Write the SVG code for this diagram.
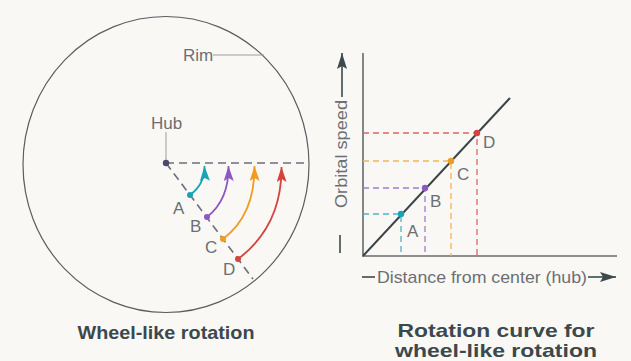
<svg xmlns="http://www.w3.org/2000/svg" width="631" height="361" viewBox="0 0 631 361">
<defs>
<style>
.lbl{font-family:"Liberation Sans",Arial,sans-serif;font-size:17px;fill:#6b6f73}
.title{font-family:"Liberation Sans",Arial,sans-serif;font-weight:bold;font-size:19px;fill:#3b484d}
.dash{fill:none;stroke:#6c6e7e;stroke-width:1.6;stroke-dasharray:8 5}
.lead{fill:none;stroke:#9a9ea2;stroke-width:1}
.cd{fill:none;stroke-width:1.3;stroke-dasharray:6 4}
.arc{fill:none;stroke-width:1.8}
</style>
<marker id="mA" markerWidth="16" markerHeight="12" refX="15" refY="5" orient="auto" markerUnits="userSpaceOnUse"><path d="M0,0 L15,5 L0,10 L3,5 z" fill="#19a4b6"/></marker>
<marker id="mB" markerWidth="16" markerHeight="12" refX="15" refY="5" orient="auto" markerUnits="userSpaceOnUse"><path d="M0,0 L15,5 L0,10 L3,5 z" fill="#8c58c2"/></marker>
<marker id="mC" markerWidth="16" markerHeight="12" refX="15" refY="5" orient="auto" markerUnits="userSpaceOnUse"><path d="M0,0 L15,5 L0,10 L3,5 z" fill="#f19b22"/></marker>
<marker id="mD" markerWidth="16" markerHeight="12" refX="15" refY="5" orient="auto" markerUnits="userSpaceOnUse"><path d="M0,0 L15,5 L0,10 L3,5 z" fill="#d6433f"/></marker>
<marker id="mK" markerWidth="18" markerHeight="12" refX="16" refY="5" orient="auto" markerUnits="userSpaceOnUse"><path d="M0,0 L16,5 L0,10 L3,5 z" fill="#3c4a4e"/></marker>
</defs>
<rect width="631" height="361" fill="#faf8f4"/>

<g id="wheel">
<ellipse cx="166" cy="164.5" rx="143" ry="148" fill="none" stroke="#5a5d62" stroke-width="1.2"/>
</g>

<g id="connectors">
<line class="dash" x1="166" y1="163" x2="308" y2="163"/>
<line class="dash" x1="166" y1="163" x2="253" y2="279"/>
<line class="lead" x1="166" y1="132" x2="166" y2="161"/>
<line class="lead" x1="213" y1="55" x2="264" y2="55"/>
<path class="arc" stroke="#19a4b6" d="M190,195 Q205,184 204.5,166" marker-end="url(#mA)"/>
<path class="arc" stroke="#8c58c2" d="M207,217 Q229,200 228.5,166" marker-end="url(#mB)"/>
<path class="arc" stroke="#f19b22" d="M223,239 Q255,215 254.5,166" marker-end="url(#mC)"/>
<path class="arc" stroke="#d6433f" d="M238,259 Q282,226 281.5,167" marker-end="url(#mD)"/>
</g>

<g id="hub"><circle cx="166" cy="163" r="3.2" fill="#4b4a6c"/><text class="lbl" x="151" y="129">Hub</text></g>
<g id="rim"><text class="lbl" x="183" y="61">Rim</text></g>
<g id="pA"><circle cx="190" cy="195" r="3" fill="#19a4b6"/><text class="lbl" x="173" y="214">A</text></g>
<g id="pB"><circle cx="207" cy="217" r="3" fill="#8c58c2"/><text class="lbl" x="190" y="232">B</text></g>
<g id="pC"><circle cx="223" cy="239" r="3" fill="#f19b22"/><text class="lbl" x="205" y="253">C</text></g>
<g id="pD"><circle cx="238" cy="259" r="3" fill="#d6433f"/><text class="lbl" x="223" y="275">D</text></g>
<text class="title" x="166" y="339" text-anchor="middle" textLength="177" lengthAdjust="spacingAndGlyphs">Wheel-like rotation</text>

<g id="chart">
<line x1="363" y1="53" x2="363" y2="257" stroke="#4c5558" stroke-width="1.4"/>
<line x1="362" y1="256" x2="617" y2="256" stroke="#8a8e90" stroke-width="2.2"/>
<line x1="363" y1="256" x2="510" y2="98" stroke="#3a4448" stroke-width="2"/>
<g id="cA"><path class="cd" stroke="#4bb6c4" d="M363,214 H401 V256"/><circle cx="401" cy="214" r="3.2" fill="#19a4b6"/><text class="lbl" x="407" y="237">A</text></g>
<g id="cB"><path class="cd" stroke="#a07ccc" d="M363,188 H425 V256"/><circle cx="425" cy="188" r="3.2" fill="#8c58c2"/><text class="lbl" x="430" y="207">B</text></g>
<g id="cC"><path class="cd" stroke="#f2b457" d="M363,161 H451 V256"/><circle cx="451" cy="161" r="3.2" fill="#f19b22"/><text class="lbl" x="457" y="180">C</text></g>
<g id="cD"><path class="cd" stroke="#e06461" d="M363,133 H477 V256"/><circle cx="477" cy="133" r="3.2" fill="#d6433f"/><text class="lbl" x="483" y="148">D</text></g>
</g>

<g id="yaxis-label">
<line x1="340" y1="253" x2="340" y2="235" stroke="#3c4a4e" stroke-width="1.6"/>
<text class="lbl" transform="translate(347,154) rotate(-90)" text-anchor="middle" textLength="108" lengthAdjust="spacingAndGlyphs">Orbital speed</text>
<line x1="342" y1="97" x2="342" y2="53" stroke="#3c4a4e" stroke-width="1.6" marker-end="url(#mK)"/>
</g>
<g id="xaxis-label">
<line x1="362" y1="277" x2="375" y2="277" stroke="#3c4a4e" stroke-width="1.6"/>
<text class="lbl" x="377" y="283" font-size="16" textLength="210" lengthAdjust="spacingAndGlyphs">Distance from center (hub)</text>
<line x1="588" y1="277" x2="616" y2="277" stroke="#3c4a4e" stroke-width="1.6" marker-end="url(#mK)"/>
</g>
<text class="title" text-anchor="middle" font-size="17"><tspan x="496" y="337" textLength="197" lengthAdjust="spacingAndGlyphs">Rotation curve for</tspan><tspan x="496" y="357" textLength="202" lengthAdjust="spacingAndGlyphs">wheel-like rotation</tspan></text>
</svg>
